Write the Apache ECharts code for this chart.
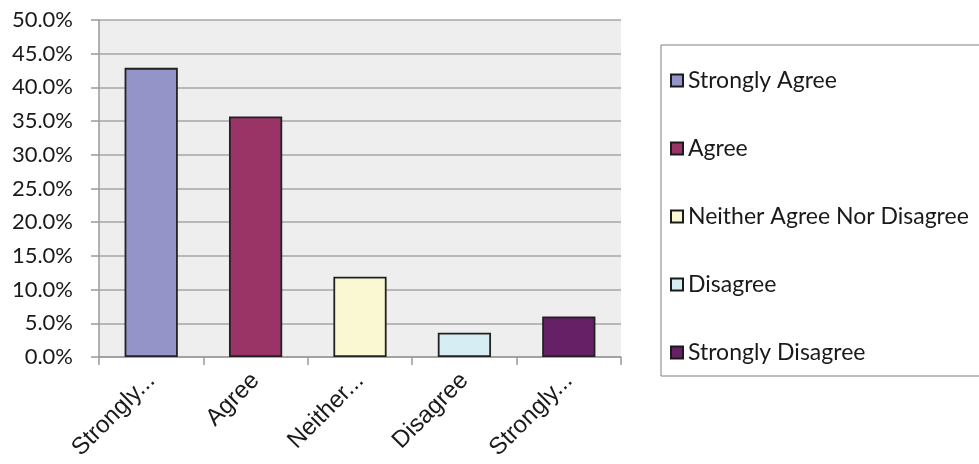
<!DOCTYPE html>
<html>
<head>
<meta charset="utf-8">
<script src="https://cdn.jsdelivr.net/npm/echarts@6/dist/echarts.min.js"></script>
<style>
  html, body { margin: 0; padding: 0; background: #fff; }
  #chart { width: 979px; height: 464px; }
</style>
</head>
<body>
<div id="chart"></div>
<script>
const categories = ['Strongly Agree', 'Agree', 'Neither Agree Nor Disagree', 'Disagree', 'Strongly Disagree'];
const tickLabels = ['Strongly...', 'Agree', 'Neither...', 'Disagree', 'Strongly...'];
const values = [42.9, 35.7, 11.9, 3.6, 6.0];
const colors = ['#9494C9', '#9A3366', '#FAF8D2', '#D5EDF3', '#652066'];

const chart = echarts.init(document.getElementById('chart'));

// one series per category so the legend lists each answer
const series = categories.map((name, i) => ({
  name: name,
  type: 'bar',
  stack: 'all',
  barWidth: '51%',
  itemStyle: { color: colors[i], borderColor: '#222', borderWidth: 1.8 },
  data: values.map((v, j) => (j === i ? v : '-'))
}));

const option = {
  animation: false,
  color: colors,
  grid: { left: 99, right: 358, top: 20, bottom: 107 },
  legend: {
    orient: 'vertical',
    left: 661,
    top: 45,
    padding: [24, 400, 12, 9],
    borderColor: '#7f7f7f',
    borderWidth: 1,
    itemWidth: 12,
    itemHeight: 12,
    itemGap: 45,
    icon: 'rect',
    itemStyle: { borderColor: '#1a1a1a', borderWidth: 2 },
    textStyle: { fontFamily: 'Lato', fontSize: 23, color: '#1a1a1a', lineHeight: 20 },
    selectedMode: false
  },
  xAxis: {
    type: 'category',
    data: categories,
    axisLine: { lineStyle: { color: '#9a9a9a', width: 1.5 } },
    axisTick: { show: true, length: 8, lineStyle: { color: '#9a9a9a', width: 1.5 } },
    axisLabel: {
      rotate: 45,
      interval: 0,
      margin: 20,
      fontFamily: 'Liberation Sans',
      fontSize: 24,
      color: '#1a1a1a',
      formatter: (v, i) => tickLabels[i]
    }
  },
  yAxis: {
    type: 'value',
    min: 0,
    max: 50,
    interval: 5,
    axisLine: { show: true, lineStyle: { color: '#9a9a9a', width: 1.5 } },
    axisTick: { show: true, length: 8, lineStyle: { color: '#9a9a9a', width: 1.5 } },
    splitLine: { lineStyle: { color: '#a6a6a6', width: 1.5 } },
    splitArea: { show: true, areaStyle: { color: ['#eeeeee', '#eeeeee'] } },
    axisLabel: {
      margin: 26,
      fontFamily: 'Lato',
      fontSize: 22,
      color: '#1a1a1a',
      formatter: v => v.toFixed(1) + '%'
    }
  },
  series: series
};

chart.setOption(option);
</script>
</body>
</html>
